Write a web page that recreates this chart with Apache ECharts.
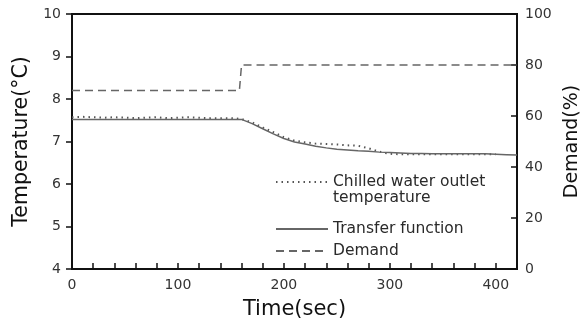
<!DOCTYPE html>
<html><head><meta charset="utf-8">
<script src="https://cdn.jsdelivr.net/npm/echarts@6/dist/echarts.min.js"></script>
<style>html,body{margin:0;padding:0;background:#fff}#c{width:585px;height:328px}</style>
</head><body><div id="c"></div>
<script>
const time = [0,10,20,30,40,50,60,70,80,90,100,110,120,130,140,150,160,170,180,190,200,210,220,230,240,250,260,270,280,290,300,310,320,330,340,350,360,370,380,390,400,410,420];
const chilled = [7.57,7.58,7.57,7.56,7.57,7.56,7.55,7.56,7.57,7.55,7.56,7.57,7.56,7.55,7.55,7.55,7.53,7.45,7.33,7.22,7.10,7.02,6.98,6.95,6.94,6.93,6.91,6.90,6.84,6.76,6.71,6.70,6.70,6.70,6.70,6.70,6.70,6.70,6.70,6.70,6.70,null,null];
const transfer = [7.52,7.52,7.52,7.52,7.52,7.52,7.52,7.52,7.52,7.52,7.52,7.52,7.52,7.52,7.52,7.52,7.52,7.42,7.30,7.18,7.07,6.99,6.94,6.89,6.85,6.82,6.80,6.78,6.77,6.75,6.74,6.73,6.72,6.72,6.71,6.71,6.71,6.71,6.71,6.71,6.70,6.69,6.68];
const demandTime = [0,158,160,420];
const demand = [70,70,80,80];
const names = ['Chilled water outlet temperature','Transfer function','Demand'];
const legendLines = ['Chilled water outlet','temperature'];

const pairs = (xs, ys) => xs.map((x,i)=>[x, ys[i]]);
const font = 'DejaVu Sans';
const legendBase = {
  orient:'vertical', left:270, itemWidth:52, itemHeight:12,
  itemStyle:{opacity:0},
  textStyle:{fontFamily:font,fontSize:15.5,color:'#2a2a2a'},
  selectedMode:false
};
const chart = echarts.init(document.getElementById('c'));
chart.setOption({
  animation:false,
  textStyle:{fontFamily:font},
  grid:{left:72,right:68,top:14,bottom:59,outerBoundsMode:'none',containLabel:false,show:true,borderColor:'#111',borderWidth:2},
  legend:[
    Object.assign({}, legendBase, {top:169, data:[names[0]], formatter:()=>legendLines[0]}),
    Object.assign({}, legendBase, {top:216, data:[names[1]]}),
    Object.assign({}, legendBase, {top:238, data:[names[2]]})
  ],
  graphic:[{type:'text',left:333,top:190,style:{text:legendLines[1],fontFamily:font,fontSize:15.5,fill:'#2a2a2a'}}],
  xAxis:{type:'value',min:0,max:420,interval:20,
    name:'Time(sec)',nameLocation:'middle',nameGap:30,
    nameTextStyle:{fontSize:21,color:'#111',fontFamily:font},
    axisLine:{lineStyle:{color:'#111',width:2}},
    axisTick:{inside:true,length:6,lineStyle:{color:'#111',width:1.5}},
    axisLabel:{color:'#333',fontSize:14,margin:9,formatter:v=>v%100===0?String(v):''},
    splitLine:{show:false}},
  yAxis:[
    {type:'value',min:4,max:10,interval:1,
     name:'Temperature(°C)',nameLocation:'middle',nameGap:38,
     nameTextStyle:{fontSize:20.5,color:'#111',fontFamily:font},
     axisLine:{show:true,lineStyle:{color:'#111',width:2}},
     axisTick:{show:true,length:6,lineStyle:{color:'#111',width:1.5}},
     axisLabel:{color:'#333',fontSize:14,margin:11},
     splitLine:{show:false}},
    {type:'value',min:0,max:100,interval:20,position:'right',
     name:'Demand(%)',nameLocation:'middle',nameGap:42,
     nameTextStyle:{fontSize:19,color:'#111',fontFamily:font},
     axisLine:{show:true,lineStyle:{color:'#111',width:2}},
     axisTick:{show:true,inside:true,length:6,lineStyle:{color:'#111',width:1.5}},
     axisLabel:{color:'#333',fontSize:14,margin:8},
     splitLine:{show:false}}
  ],
  series:[
    {name:names[0],type:'line',data:pairs(time,chilled),showSymbol:false,symbol:'none',
     lineStyle:{color:'#555',width:2,type:[1.5,4]},itemStyle:{color:'#555'}},
    {name:names[1],type:'line',data:pairs(time,transfer),showSymbol:false,symbol:'none',
     lineStyle:{color:'#666',width:1.5},itemStyle:{color:'#666'}},
    {name:names[2],type:'line',yAxisIndex:1,data:pairs(demandTime,demand),showSymbol:false,symbol:'none',
     lineStyle:{color:'#666',width:1.5,type:[8,5]},itemStyle:{color:'#666'}}
  ]
});
</script></body></html>
